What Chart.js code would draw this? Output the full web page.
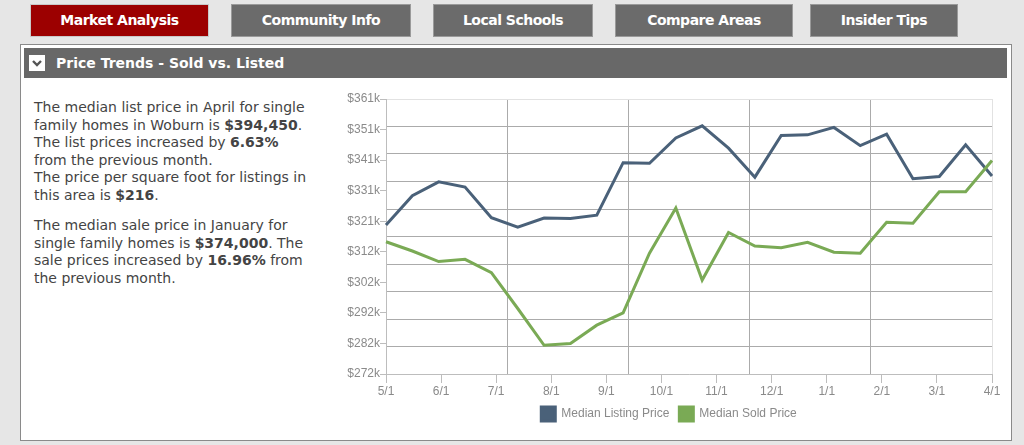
<!DOCTYPE html>
<html>
<head>
<meta charset="utf-8">
<title>Price Trends - Sold vs. Listed</title>
<script src="https://cdn.jsdelivr.net/npm/chart.js@4.4.1/dist/chart.umd.min.js"></script>
<style>
  html, body {
    margin: 0;
    padding: 0;
    width: 1024px;
    height: 445px;
    overflow: hidden;
    background: #e6e6e6;
    font-family: "DejaVu Sans", Verdana, sans-serif;
  }
  .tab {
    position: absolute;
    top: 4px;
    height: 31px;
    line-height: 31px;
    color: #fff;
    font-weight: bold;
    font-size: 14px;
    letter-spacing: -0.5px;
    text-align: center;
    background: #6b6b6b;
    border: 1px solid #9a9a9a;
  }
  .tab.active {
    background: #9c0000;
    border-color: #c9c9c9;
  }
  .panel {
    position: absolute;
    left: 20px;
    top: 44px;
    width: 990px;
    height: 395px;
    background: #fff;
    border: 1px solid #8a8a8a;
  }
  .panel-head {
    position: absolute;
    left: 24px;
    top: 48px;
    width: 983px;
    height: 30px;
    background: #686868;
  }
  .panel-head .toggle {
    position: absolute;
    left: 5px;
    top: 7px;
    width: 16px;
    height: 16px;
    background: #fff;
  }
  .panel-head .title {
    position: absolute;
    left: 32px;
    top: 0;
    line-height: 30px;
    color: #fff;
    font-weight: bold;
    font-size: 14px;
  }
  .summary {
    position: absolute;
    left: 34px;
    top: 99px;
    color: #444;
    font-size: 14px;
    line-height: 17.6px;
    white-space: nowrap;
  }
  .summary p { margin: 0 0 12.4px 0; }
  .chart-box {
    position: absolute;
    left: 326px;
    top: 91px;
    width: 686px;
    height: 340px;
  }
</style>
</head>
<body>

<div class="tab active" style="left:30px;width:177px;">Market Analysis</div>
<div class="tab" style="left:231px;width:178px;">Community Info</div>
<div class="tab" style="left:433px;width:158px;">Local Schools</div>
<div class="tab" style="left:615px;width:176px;">Compare Areas</div>
<div class="tab" style="left:810px;width:146px;">Insider Tips</div>

<div class="panel"></div>
<div class="panel-head">
  <div class="toggle">
    <svg width="16" height="16" viewBox="0 0 16 16">
      <polyline points="4,6 8,10 12,6" fill="none" stroke="#555" stroke-width="2.4"/>
    </svg>
  </div>
  <div class="title">Price Trends - Sold vs. Listed</div>
</div>

<div class="summary">
  <p>The median list price in April for single<br>
  family homes in Woburn is <b>$394,450</b>.<br>
  The list prices increased by <b>6.63%</b><br>
  from the previous month.<br>
  The price per square foot for listings in<br>
  this area is <b>$216</b>.</p>
  <p>The median sale price in January for<br>
  single family homes is <b>$374,000</b>. The<br>
  sale prices increased by <b>16.96%</b> from<br>
  the previous month.</p>
</div>

<div class="chart-box"><canvas id="trend-chart"></canvas></div>

<script>
// ===== DATA =====
// roughly two readings per month, May through April
const periods = [
  "5/1", "5/15", "5/30", "6/13", "6/28", "7/12", "7/27", "8/10",
  "8/25", "9/8", "9/23", "10/7", "10/22", "11/5", "11/20", "12/4",
  "12/19", "1/2", "1/17", "1/31", "2/15", "3/1", "3/16", "4/1"
];
const monthLabels = [
  "5/1", "6/1", "7/1", "8/1", "9/1", "10/1",
  "11/1", "12/1", "1/1", "2/1", "3/1", "4/1"
];
const listingPrice = [
  320200, 329700, 334200, 332500, 322600, 319500, 322500, 322300,
  323400, 340400, 340200, 348400, 352300, 345100, 335700, 349200,
  349400, 351800, 345900, 349600, 335200, 335900, 346200, 336100
];
const soldPrice = [
  314800, 311800, 308400, 309100, 304800, 293200, 281300, 281900,
  287800, 291800, 311100, 325700, 302400, 317800, 313400, 312900,
  314600, 311400, 311100, 321100, 320800, 331000, 331000, 341100
];
const seriesNames = ["Median Listing Price", "Median Sold Price"];
const yMin = 272000;
const yMax = 361000;

const COLORS = {
  listing: "#4a6179",
  sold: "#7aaa55",
  grid: "#ababab",
  gridEdge: "#e2e2e2",
  axis: "#bdbdbd",
  text: "#8a8a8a",
};

function edgeColor(ctx) {
  // outer frame lines are lighter than the inner grid
  const last = ctx.scale.ticks.length - 1;
  return ctx.index === 0 || ctx.index === last ? COLORS.gridEdge : COLORS.grid;
}

// ===== CHART =====
function initChart() {
  const el = document.getElementById("trend-chart");
  new Chart(el.getContext("2d"), {
    type: "line",
    data: {
      labels: periods,
      datasets: [
        {
          label: seriesNames[0],
          data: listingPrice,
          borderColor: COLORS.listing,
          backgroundColor: COLORS.listing,
          borderWidth: 3,
          pointRadius: 0,
          tension: 0,
          order: 1,
        },
        {
          label: seriesNames[1],
          data: soldPrice,
          borderColor: COLORS.sold,
          backgroundColor: COLORS.sold,
          borderWidth: 3,
          pointRadius: 0,
          tension: 0,
          order: 0,
        },
      ],
    },
    options: {
      responsive: true,
      maintainAspectRatio: false,
      animation: false,
      layout: { padding: { top: 8, left: 0, right: 0, bottom: 0 } },
      plugins: {
        tooltip: { enabled: false },
        legend: {
          position: "bottom",
          labels: {
            boxWidth: 14,
            boxHeight: 14,
            padding: 10,
            color: COLORS.text,
            font: { family: "'Liberation Sans', Arial, sans-serif", size: 12 },
            sort: (a, b) => a.datasetIndex - b.datasetIndex,
          },
        },
      },
      scales: {
        // data axis, one slot per reading
        x: {
          type: "category",
          display: false,
        },
        // month labels
        xMonths: {
          type: "linear",
          position: "bottom",
          min: 0,
          max: monthLabels.length - 1,
          afterFit: (scale) => { scale.height = 23; },
          border: { color: COLORS.axis },
          grid: {
            drawOnChartArea: false,
            drawTicks: true,
            tickLength: 9,
            color: COLORS.axis,
          },
          ticks: {
            stepSize: 1,
            padding: 1,
            autoSkip: false,
            maxRotation: 0,
            color: COLORS.text,
            font: { family: "'Liberation Sans', Arial, sans-serif", size: 12 },
            callback: (v) => monthLabels[v],
          },
        },
        // vertical grid: five equal columns
        xGrid: {
          type: "linear",
          position: "bottom",
          min: 0,
          max: 5,
          afterFit: (scale) => { scale.height = 0; },
          border: { display: false },
          grid: { drawTicks: false, color: edgeColor },
          ticks: { display: false, stepSize: 1 },
        },
        y: {
          type: "linear",
          position: "left",
          min: yMin,
          max: yMax,
          afterFit: (scale) => { scale.width = 60; },
          border: { color: COLORS.axis },
          grid: {
            drawOnChartArea: false,
            drawTicks: true,
            tickLength: 6,
            color: COLORS.axis,
          },
          ticks: {
            count: 10,
            padding: 0,
            color: COLORS.text,
            font: { family: "'Liberation Sans', Arial, sans-serif", size: 12 },
            callback: (v) => "$" + Math.round(v / 1000) + "k",
          },
        },
        // horizontal grid: ten equal rows
        yGrid: {
          type: "linear",
          position: "right",
          min: 0,
          max: 10,
          afterFit: (scale) => { scale.width = 20; },
          border: { display: false },
          grid: { drawTicks: false, color: edgeColor },
          ticks: { display: false, stepSize: 1 },
        },
      },
    },
  });
}

initChart();
</script>
</body>
</html>
